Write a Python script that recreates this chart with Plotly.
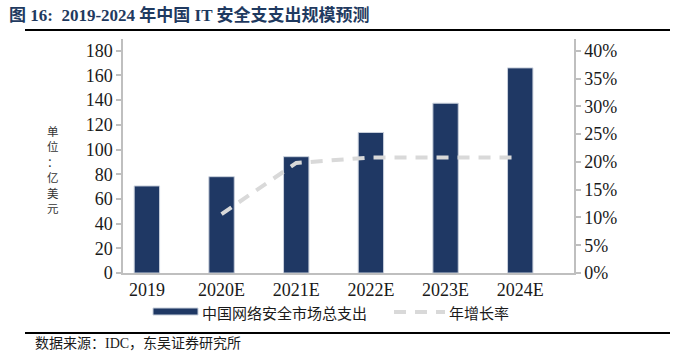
import plotly.graph_objects as go

categories = ["2019", "2020E", "2021E", "2022E", "2023E", "2024E"]
spending = [70.5, 78.0, 94.2, 113.8, 137.5, 166.1]
growth = [None, 0.106, 0.198, 0.208, 0.208, 0.208]
left_ticks = [0, 20, 40, 60, 80, 100, 120, 140, 160, 180]
right_ticks = [0, 0.05, 0.10, 0.15, 0.20, 0.25, 0.30, 0.35, 0.40]

title_text = "图 16:  2019-2024 年中国 IT 安全支支出规模预测"
bar_name = "中国网络安全市场总支出"
line_name = "年增长率"
unit_chars = ["单", "位", "：", "亿", "美", "元"]
source_text = "数据来源：IDC，东吴证券研究所"

W, H = 692, 353
L, R, T, B = 123, 574, 39, 273
FONT = "Liberation Serif, Noto Sans CJK SC, serif"
CJK = "Noto Sans CJK SC, Liberation Serif, serif"


def px(x):
    return (x - L) / (R - L)


def py(y):
    return (B - y) / (B - T)


fig = go.Figure()
fig.add_trace(go.Bar(
    x=categories, y=spending, name=bar_name, width=0.34,
    marker=dict(color="#1f3864", line=dict(color="#c9d0dc", width=1)),
    showlegend=False,
))
fig.add_trace(go.Scatter(
    x=categories, y=growth, name=line_name, yaxis="y2", mode="lines",
    line=dict(color="#d9d9d9", width=4, dash="12px,9px"),
    connectgaps=False, showlegend=False,
))

axis_common = dict(
    showline=True, linecolor="#bfbfbf", linewidth=1.5,
    ticks="outside", ticklen=5, tickcolor="#bfbfbf", tickwidth=1.5,
    showgrid=False, zeroline=False,
    tickfont=dict(family=FONT, size=18, color="#1a1a1a"),
)

fig.update_layout(
    width=W, height=H,
    margin=dict(l=L, r=W - R, t=T, b=H - B, pad=0),
    paper_bgcolor="white", plot_bgcolor="white",
    bargap=0.66,
    xaxis=dict(
        type="category", range=[-0.32, 5.72],
        showline=True, linecolor="#bfbfbf", linewidth=1.5,
        showgrid=False, zeroline=False, ticks="",
        tickfont=dict(family=FONT, size=18, color="#1a1a1a"),
    ),
    yaxis=dict(range=[0, 189.5], tickvals=left_ticks, **axis_common),
    yaxis2=dict(range=[0, 0.4211], tickvals=right_ticks, tickformat=".0%",
                overlaying="y", side="right", **axis_common),
)

shapes = [
    dict(type="line", xref="paper", yref="paper", x0=px(25), x1=px(670),
         y0=py(30), y1=py(30), line=dict(color="black", width=2)),
    dict(type="line", xref="paper", yref="paper", x0=px(25), x1=px(670),
         y0=py(333), y1=py(333), line=dict(color="black", width=2)),
    dict(type="rect", xref="paper", yref="paper", x0=px(153), x1=px(198),
         y0=py(308), y1=py(315), fillcolor="#1f3864",
         line=dict(color="#c9d0dc", width=1)),
    dict(type="line", xref="paper", yref="paper", x0=px(394), x1=px(445),
         y0=py(312), y1=py(312),
         line=dict(color="#d9d9d9", width=4, dash="12px,9px")),
]
fig.update_layout(shapes=shapes)

annotations = [
    dict(text="<b>" + title_text + "</b>", x=px(7), y=py(15), xanchor="left",
         yanchor="middle", font=dict(family=FONT, size=17, color="#1f3a60")),
    dict(text=bar_name, x=px(200), y=py(312), xanchor="left", yanchor="middle",
         font=dict(family=CJK, size=15, color="#1a1a1a")),
    dict(text=line_name, x=px(447), y=py(312), xanchor="left", yanchor="middle",
         font=dict(family=CJK, size=15, color="#1a1a1a")),
    dict(text=source_text, x=px(33), y=py(343), xanchor="left", yanchor="middle",
         font=dict(family=FONT, size=14, color="#1a1a1a")),
]
for i, ch in enumerate(unit_chars):
    annotations.append(dict(
        text=ch, x=px(53), y=py(131 + i * 15.4), xanchor="center",
        yanchor="middle", font=dict(family=CJK, size=11.5, color="#333333")))
for a in annotations:
    a.update(xref="paper", yref="paper", showarrow=False)
fig.update_layout(annotations=annotations)

fig.write_html("out.html")
